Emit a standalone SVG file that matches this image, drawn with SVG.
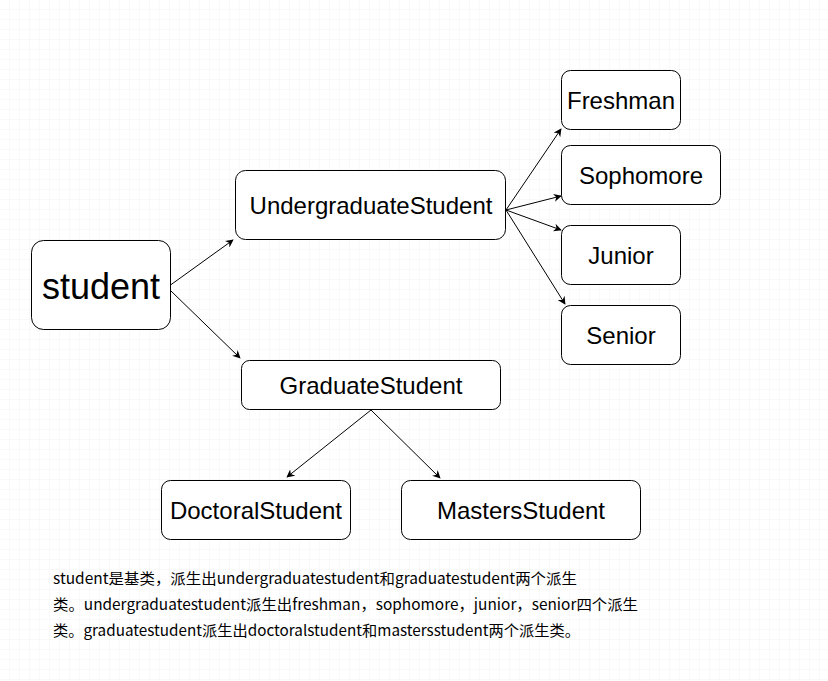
<svg xmlns="http://www.w3.org/2000/svg" width="828" height="681" viewBox="0 0 828 681">
<defs>
<pattern id="minor" width="10" height="10" patternUnits="userSpaceOnUse"><path d="M10 0V10M0 10H10" fill="none" stroke="#f3f3f3" stroke-width="1"/></pattern>
<pattern id="major" width="40" height="40" patternUnits="userSpaceOnUse"><rect width="40" height="40" fill="url(#minor)"/><path d="M40.5 0V40M0 40.5H40" fill="none" stroke="#e6e6e6" stroke-width="1"/></pattern>
<marker id="arr" viewBox="0 0 10 10" refX="9" refY="5" markerWidth="8" markerHeight="8" orient="auto" markerUnits="userSpaceOnUse"><path d="M0 0L10 5L0 10L3 5Z" fill="#000"/></marker>
</defs>
<style>
.box{fill:#fff;stroke:#000;stroke-width:1}
.lbl{font-family:"Liberation Sans",Arial,sans-serif;font-size:24px;fill:#000;text-anchor:middle;dominant-baseline:central}
.edge{stroke:#000;stroke-width:1;fill:none;marker-end:url(#arr)}
.note{font-family:"Noto Sans CJK SC","Microsoft YaHei",sans-serif;font-size:15px;fill:#000}
</style>
<rect width="828" height="681" fill="#fff"/>
<rect width="828" height="681" fill="url(#major)"/>
<g id="connectors">
<path class="edge" d="M170.5 285L233 240"/>
<path class="edge" d="M171 291L240 358"/>
<path class="edge" d="M506 210L561 129"/>
<path class="edge" d="M506 210L561 196"/>
<path class="edge" d="M506 210L561 230"/>
<path class="edge" d="M506 210L565 304"/>
<path class="edge" d="M371 410L287 477"/>
<path class="edge" d="M371 410L440 478"/>
</g>
<g id="student"><rect class="box" x="31.5" y="240.5" width="139" height="89" rx="12"/><text class="lbl" x="101" y="286" style="font-size:36px">student</text></g>
<g id="undergraduate"><rect class="box" x="235.5" y="170.5" width="270" height="69" rx="10"/><text class="lbl" x="371" y="205">UndergraduateStudent</text></g>
<g id="graduate"><rect class="box" x="241.5" y="360.5" width="259" height="49" rx="8"/><text class="lbl" x="371" y="385">GraduateStudent</text></g>
<g id="freshman"><rect class="box" x="561.5" y="70.5" width="119" height="59" rx="9"/><text class="lbl" x="621" y="100">Freshman</text></g>
<g id="sophomore"><rect class="box" x="561.5" y="145.5" width="159" height="59" rx="9"/><text class="lbl" x="641" y="175">Sophomore</text></g>
<g id="junior"><rect class="box" x="561.5" y="225.5" width="119" height="59" rx="9"/><text class="lbl" x="621" y="255">Junior</text></g>
<g id="senior"><rect class="box" x="561.5" y="305.5" width="119" height="59" rx="9"/><text class="lbl" x="621" y="335">Senior</text></g>
<g id="doctoral"><rect class="box" x="161.5" y="480.5" width="189" height="59" rx="9"/><text class="lbl" x="256" y="510">DoctoralStudent</text></g>
<g id="masters"><rect class="box" x="401.5" y="480.5" width="239" height="59" rx="9"/><text class="lbl" x="521" y="510">MastersStudent</text></g>
<g id="note">
<text class="note" x="53" y="584" textLength="524" lengthAdjust="spacingAndGlyphs">student是基类，派生出undergraduatestudent和graduatestudent两个派生</text>
<text class="note" x="53" y="610" textLength="585" lengthAdjust="spacingAndGlyphs">类。undergraduatestudent派生出freshman，sophomore，junior，senior四个派生</text>
<text class="note" x="53" y="636" textLength="527" lengthAdjust="spacingAndGlyphs">类。graduatestudent派生出doctoralstudent和mastersstudent两个派生类。</text>
</g>
</svg>
